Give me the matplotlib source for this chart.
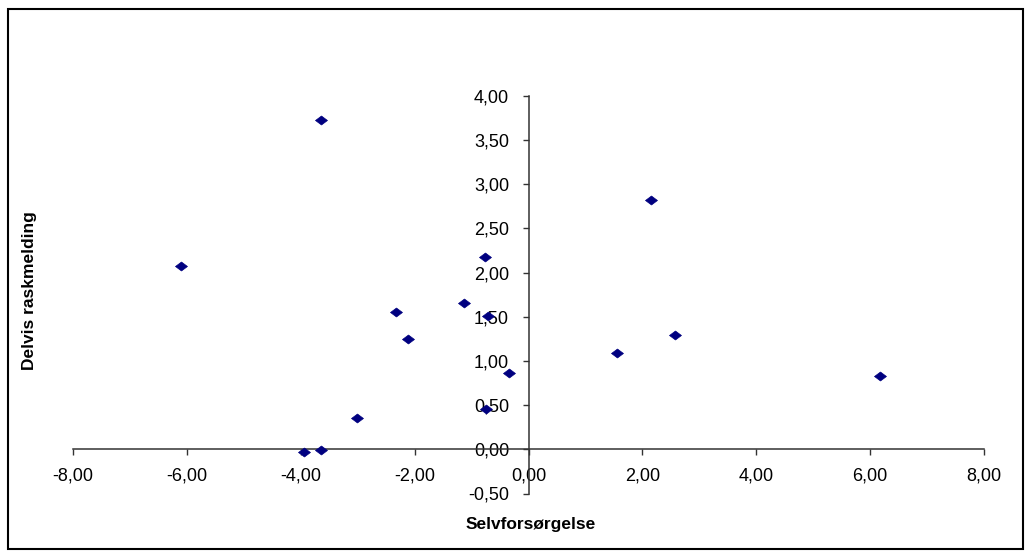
import matplotlib
matplotlib.use("Agg")
import matplotlib.pyplot as plt
from matplotlib.patches import Rectangle
from matplotlib.ticker import FixedLocator, FuncFormatter

# Data
selvforsorgelse = [-3.65, -6.11, -0.76, 2.16, -2.32, -1.13, -0.71, -2.11,
                   2.57, 1.56, 6.17, -0.35, -0.75, -3.02, -3.95, -3.65]
delvis_raskmelding = [3.73, 2.07, 2.18, 2.82, 1.56, 1.66, 1.51, 1.25,
                      1.29, 1.09, 0.83, 0.86, 0.46, 0.35, -0.03, -0.01]

x_ticks = [-8, -6, -4, -2, 0, 2, 4, 6, 8]
y_ticks = [-0.5, 0, 0.5, 1.0, 1.5, 2.0, 2.5, 3.0, 3.5, 4.0]
x_label = "Selvforsørgelse"
y_label = "Delvis raskmelding"

plt.rcParams['font.family'] = ['Liberation Sans', 'DejaVu Sans']

W, H = 1031, 560
fig = plt.figure(figsize=(W / 100, H / 100), dpi=100)
fig.patch.set_facecolor('white')

left, right, top, bottom = 73, 984, 96, 493.5
ax = fig.add_axes([left / W, 1 - bottom / H, (right - left) / W, (bottom - top) / H])
ax.set_xlim(-8, 8)
ax.set_ylim(-0.5, 4.0)

diamond = [(-1, 0), (0, 0.75), (1, 0), (0, -0.75), (-1, 0)]
ax.plot(selvforsorgelse, delvis_raskmelding, linestyle='none', marker=diamond,
        markersize=8.6, color='#000080', markeredgecolor='#000080',
        markeredgewidth=0.5, zorder=5, clip_on=False)

for s in ('top', 'right'):
    ax.spines[s].set_visible(False)
ax.spines['left'].set_position(('data', 0))
ax.spines['bottom'].set_position(('data', 0))
for s in ('left', 'bottom'):
    ax.spines[s].set_color('#333333')
    ax.spines[s].set_linewidth(1.1)

fmt = FuncFormatter(lambda v, p: f"{v:.2f}".replace('.', ','))
ax.xaxis.set_major_locator(FixedLocator(x_ticks))
ax.yaxis.set_major_locator(FixedLocator(y_ticks))
ax.xaxis.set_major_formatter(fmt)
ax.yaxis.set_major_formatter(fmt)
ax.tick_params(axis='x', direction='out', length=4, width=1, color='#333333',
               labelsize=13, pad=9, labelcolor='black')
ax.tick_params(axis='y', direction='out', length=4, width=1, color='#333333',
               labelsize=13, pad=10, labelcolor='black')

fig.text(531 / W, 1 - 525 / H, x_label, ha='center', va='center',
         fontsize=12.5, fontweight='bold')
fig.text(30 / W, 1 - 291 / H, y_label, ha='center', va='center',
         rotation=90, fontsize=12.5, fontweight='bold')

fig.patches.append(Rectangle((8 / W, 1 - 549 / H), (1023 - 8) / W, (549 - 9) / H,
                             transform=fig.transFigure, fill=False,
                             edgecolor='black', linewidth=1.5))

fig.savefig('out.png', dpi=100, facecolor='white')
